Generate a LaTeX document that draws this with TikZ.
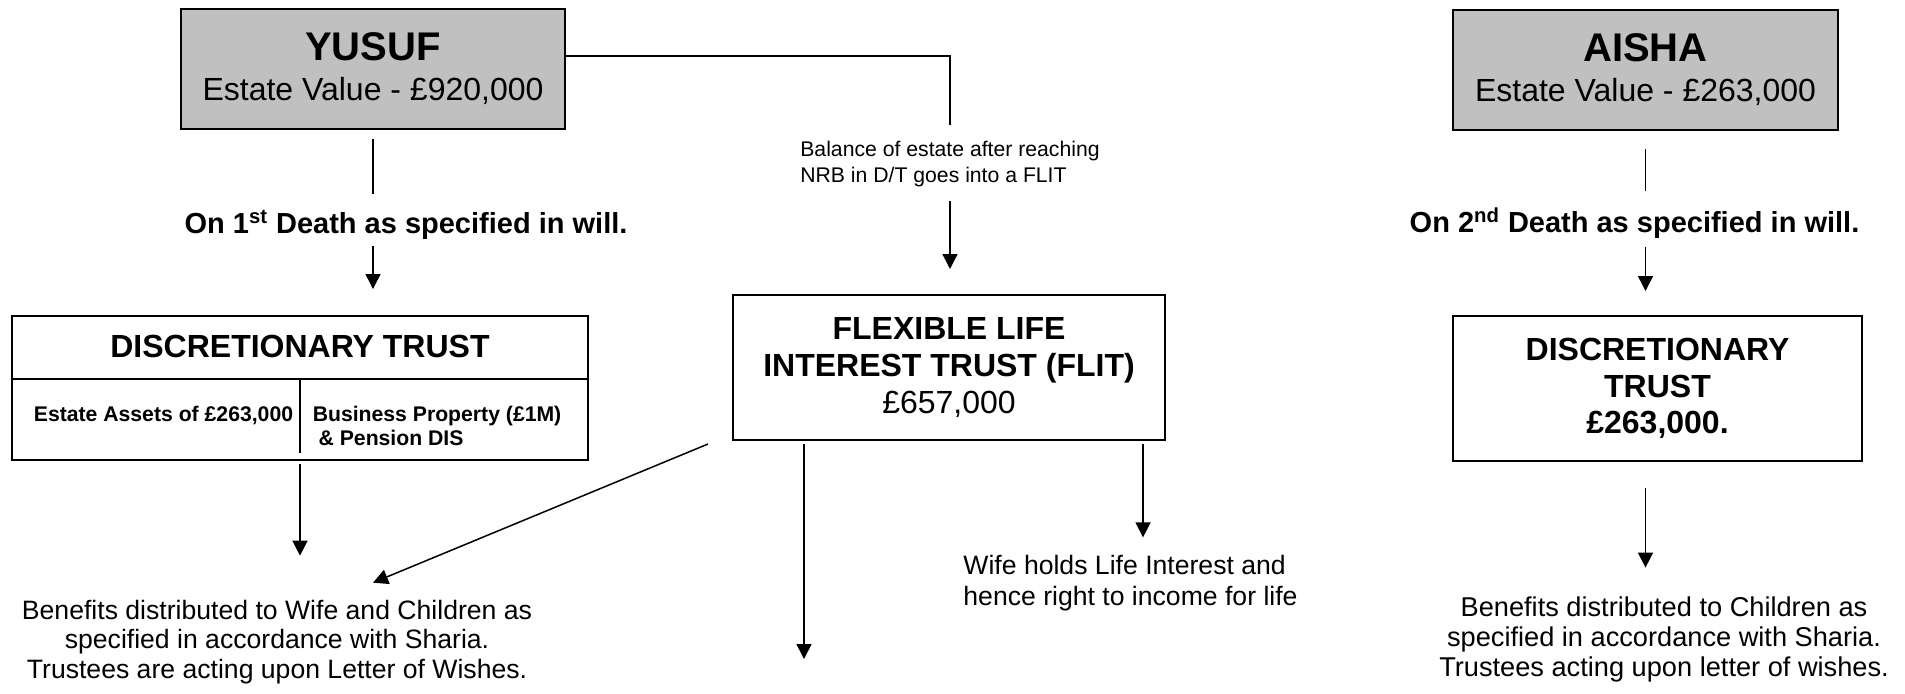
\documentclass[tikz,border=0pt]{standalone}
\usepackage{fontspec}
\setmainfont{Liberation Sans}
\usetikzlibrary{arrows.meta}
\definecolor{boxgray}{HTML}{C0C0C0}
\begin{document}
\begin{tikzpicture}[x=0.5pt,y=-0.5pt,
	person/.style={draw,fill=boxgray,line width=1pt,inner sep=0pt,align=center,minimum height=60pt,font=\fontsize{16}{20}\selectfont},
	trust/.style={draw,line width=1pt,inner sep=0pt,align=center,minimum height=72.5pt,font=\fontsize{16}{18.3}\selectfont},
	death/.style={inner sep=0pt,font=\fontsize{14.5}{17}\selectfont\bfseries},
	note/.style={inner sep=0pt,align=center,font=\fontsize{13.3}{14.6}\selectfont},
	small/.style={inner sep=0pt,font=\fontsize{10.6}{12}\selectfont\bfseries},
	arr/.style={-{Triangle[length=7.5pt,width=7.5pt]},line width=0.75pt},
	line width=0.75pt]
	\useasboundingbox (0,0) rectangle (1905,693);
	\node[person,minimum width=192pt] (Y) at (373,69) {{\fontsize{20}{24}\selectfont\bfseries YUSUF}\\Estate Value - £920,000};
	\node[person,minimum width=192.5pt] (A) at (1645.5,69.5) {{\fontsize{20}{24}\selectfont\bfseries AISHA}\\Estate Value - £263,000};
	\node[death] (D1) at (406,225) {On 1\textsuperscript{st} Death as specified in will.};
	\node[death] (D2) at (1634.5,223) {On 2\textsuperscript{nd} Death as specified in will.};
	\node[inner sep=0pt,align=left,font=\fontsize{10.6}{13}\selectfont] (BAL) at (950,164) {Balance of estate after reaching\\NRB in D/T goes into a FLIT};
	\node[trust,minimum width=216pt] (FLIT) at (949,367.5) {\bfseries FLEXIBLE LIFE\\\bfseries INTEREST TRUST (FLIT)\\£657,000};
	\node[trust,minimum width=288pt,minimum height=72pt] (DTY) at (300,388) {};
	\node[trust,minimum width=204.5pt,font=\fontsize{16}{18.3}\selectfont\bfseries] (DTA) at (1657.5,388.5) {DISCRETIONARY\\TRUST\\£263,000.};
	\node[inner sep=0pt,font=\fontsize{16}{18}\selectfont\bfseries] (DTYh) at (300,346) {DISCRETIONARY TRUST};
	\coordinate (DTYm) at (300,379);
	\node[small] (EA) at (163.5,415) {Estate Assets of £263,000};
	\node[small,align=left,anchor=west] (BP) at (312,426) {Business Property (£1M)\\\ \& Pension DIS};
	\node[note] (BY) at (277,642) {Benefits distributed to Wife and Children as\\specified in accordance with Sharia.\\Trustees are acting upon Letter of Wishes.};
	\node[note,align=left,font=\fontsize{13.3}{15.5}\selectfont] (W) at (1130.5,583) {Wife holds Life Interest and\\hence right to income for life};
	\node[note,font=\fontsize{13.6}{15}\selectfont] (BA) at (1664,639) {Benefits distributed to Children as\\specified in accordance with Sharia.\\Trustees acting upon letter of wishes.};
	\coordinate (END) at (804,659);
	\draw (DTY.west |- DTYm) -- (DTY.east |- DTYm);
	\draw (DTYm) -- ([yshift=4pt]DTY.south);
	\draw[shorten <=4.5pt,shorten >=7.5pt] (Y) -- (Y |- D1.north);
	\draw[arr,shorten <=2.75pt,shorten >=13pt] (Y |- D1.south) -- (Y |- DTY.north);
	\draw[shorten <=9.25pt,shorten >=7.75pt] (A) -- (A |- D2.north);
	\draw[arr,shorten <=3.75pt,shorten >=12pt] (A |- D2.south) -- (A |- DTA.north);
	\draw[shorten >=7.5pt] ([yshift=6.5pt]Y.east) -| (BAL.north);
	\draw[arr,shorten <=6.5pt,shorten >=12.5pt] (BAL.south) -- (BAL.south |- FLIT.north);
	\draw[arr,shorten <=1.5pt,shorten >=22pt] (DTY.south) -- (DTY.south |- BY.north);
	\draw[arr] ([xshift=-12pt,yshift=-1.5pt]FLIT.south west) -- ([xshift=48pt,yshift=8.5pt]BY.north);
	\draw[arr,shorten <=1.5pt] (END |- FLIT.south) -- (END);
	\draw[arr,shorten <=1.5pt,shorten >=8.5pt] ([xshift=-11.5pt]FLIT.south east) -- ([xshift=-11.5pt]FLIT.south east |- W.north);
	\draw[arr,shorten <=13pt,shorten >=14pt] (A |- DTA.south) -- (A |- BA.north);
\end{tikzpicture}
\end{document}
